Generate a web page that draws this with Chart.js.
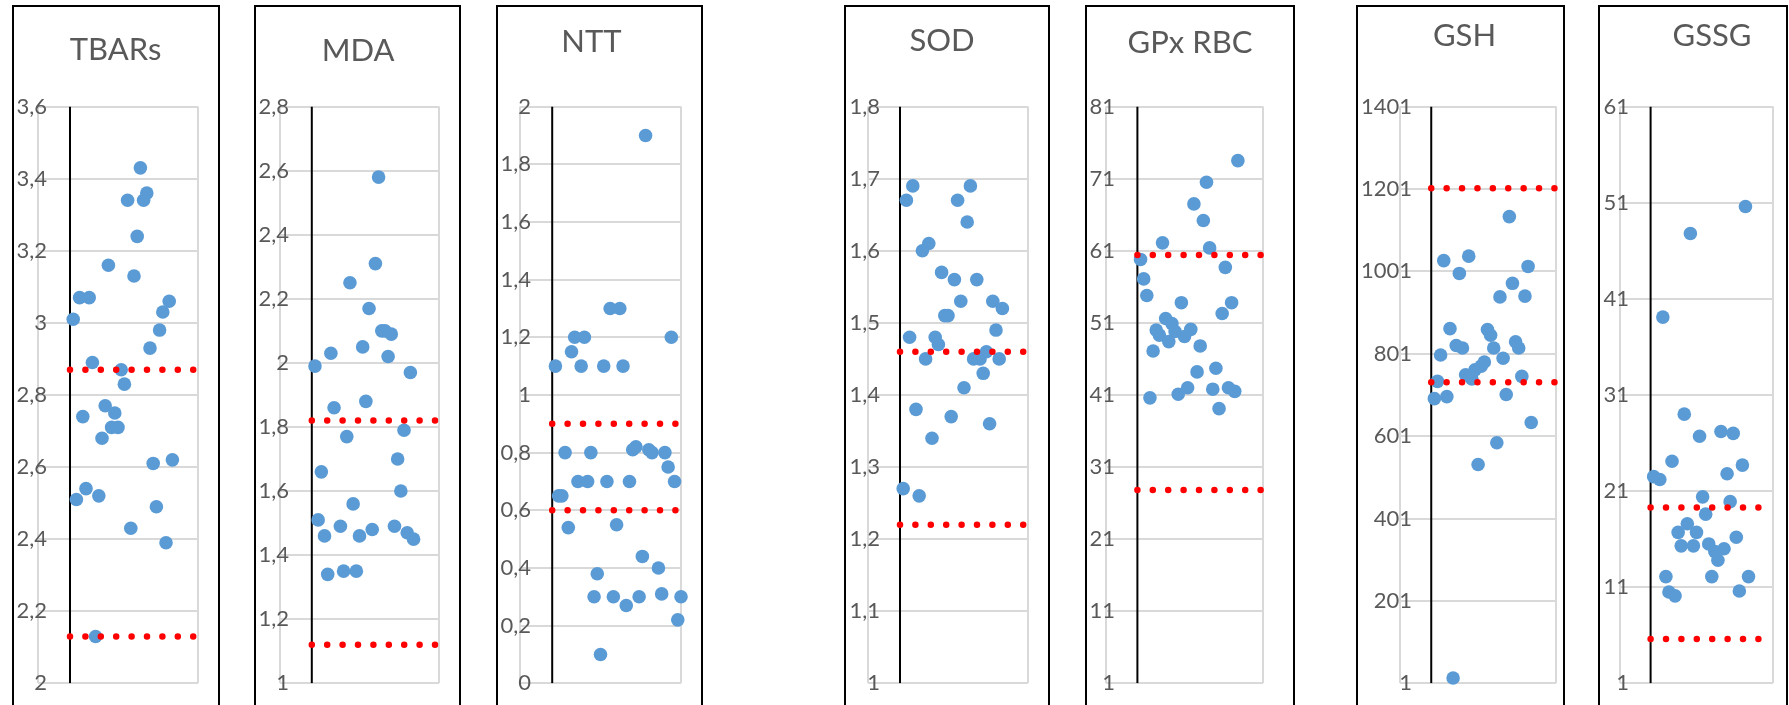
<!DOCTYPE html>
<html>
<head>
<meta charset="utf-8">
<script src="https://cdn.jsdelivr.net/npm/chart.js@4.4.0/dist/chart.umd.min.js"></script>
<style>
  html, body { margin: 0; padding: 0; background: #fff; width: 1789px; height: 705px; overflow: hidden; }
  .panel { position: absolute; top: 5px; height: 712px; border: 2px solid #000; box-sizing: border-box; background: #fff; }
  .panel canvas { position: absolute; left: 0; top: 0; }
</style>
</head>
<body>
<script>
// subject values, one entry per subject number (null = no measurement)
const tbarsY = [3.01, 2.51, 3.07, 2.74, 2.54, 3.07, 2.89, 2.13, 2.52, 2.68, 2.77, 3.16, 2.71, 2.75, 2.71, 2.87,
                2.83, 3.34, 2.43, 3.13, 3.24, 3.43, 3.34, 3.36, 2.93, 2.61, 2.49, 2.98, 3.03, 2.39, 3.06, 2.62];
const mdaY = [1.99, 1.51, 1.66, 1.46, 1.34, 2.03, 1.86, null, 1.49, 1.35, 1.77, 2.25, 1.56, 1.35, 1.46, 2.05,
              1.88, 2.17, 1.48, 2.31, 2.58, 2.10, 2.10, 2.02, 2.09, 1.49, 1.70, 1.60, 1.79, 1.47, 1.97, 1.45];
const nttY = [1.10, 0.65, 0.65, 0.80, 0.54, 1.15, 1.20, 0.70, 1.10, 1.20, 0.70, 0.80, 0.30, 0.38, 0.10, 1.10,
              0.70, 1.30, 0.30, 0.55, 1.30, 1.10, 0.27, 0.70, 0.81, 0.82, 0.30, 0.44, 1.90, 0.81, 0.80, null,
              0.40, 0.31, 0.80, 0.75, 1.20, 0.70, 0.22, 0.30];
const sodY = [1.27, 1.67, 1.48, 1.69, 1.38, 1.26, 1.60, 1.45, 1.61, 1.34, 1.48, 1.47, 1.57, 1.51, 1.51, 1.37,
              1.56, 1.67, 1.53, 1.41, 1.64, 1.69, 1.45, 1.56, 1.45, 1.43, 1.46, 1.36, 1.53, 1.49, 1.45, 1.52];
const gpxY = [59.8, 57.1, 54.8, 40.6, 47.1, 50.0, 49.3, 62.1, 51.6, 48.4, 50.9, 49.8, 41.1, 53.8, 49.1, 42.0,
              50.1, 67.5, 44.2, 47.8, 65.2, 70.5, 61.4, 41.8, 44.7, 39.1, 52.3, 58.7, 42.0, 53.8, 41.5, 73.5];
const gshY = [692, 734, 798, 1027, 697, 862, 14, 821, 996, 815, 750, 1038, 740, 762, 532, 771,
              781, 860, 846, 815, 585, 939, 790, 702, 1134, 972, 830, 815, 746, 941, 1013, 634];
const gssgY = [22.5, null, 22.2, 39.1, 12.1, 10.5, 24.1, 10.1, 16.7, 15.3, 29.0, 17.6, 47.8, 15.3, 16.7, 26.7,
               20.4, 18.6, 15.5, 12.1, 14.7, 13.8, 27.2, 15.0, 22.8, 19.9, 27.0, 16.2, 10.6, 23.7, 50.6, 12.1];

// reference range limits (lower, upper)
const tbarsRef = [2.13, 2.87];
const mdaRef = [1.12, 1.82];
const nttRef = [0.6, 0.9];
const sodRef = [1.22, 1.46];
const gpxRef = [27.8, 60.4];
const gshRef = [732, 1203];
const gssgRef = [5.6, 19.3];

// y tick labels
const tbarsTicks = [2, 2.2, 2.4, 2.6, 2.8, 3, 3.2, 3.4, 3.6];
const mdaTicks = [1, 1.2, 1.4, 1.6, 1.8, 2, 2.2, 2.4, 2.6, 2.8];
const nttTicks = [0, 0.2, 0.4, 0.6, 0.8, 1, 1.2, 1.4, 1.6, 1.8, 2];
const sodTicks = [1, 1.1, 1.2, 1.3, 1.4, 1.5, 1.6, 1.7, 1.8];
const gpxTicks = [1, 11, 21, 31, 41, 51, 61, 71, 81];
const gshTicks = [1, 201, 401, 601, 801, 1001, 1201, 1401];
const gssgTicks = [1, 11, 21, 31, 41, 51, 61];

const FONT = 'Lato, "Open Sans", sans-serif';
const TEXT = '#595959';
const GRID = '#d9d9d9';
const BLUE = '#5b9bd5';
const PANEL_TOP = 5;
const PLOT_TOP = 106.6, PLOT_BOTTOM = 683.3;
const X_MIN = -10, X_MAX = 40;

// page geometry of each framed chart
const panels = [
  { title: 'TBARs',   values: tbarsY, ref: tbarsRef, ticks: tbarsTicks, box: [12, 220],    grid: [38, 198],     labelEdge: 47,   titleAt: [115.5, 49.5] },
  { title: 'MDA',     values: mdaY,   ref: mdaRef,   ticks: mdaTicks,   box: [254, 461],   grid: [280, 439],    labelEdge: 289,  titleAt: [358, 51] },
  { title: 'NTT',     values: nttY,   ref: nttRef,   ticks: nttTicks,   box: [496, 703],   grid: [520, 681],    labelEdge: 531,  titleAt: [591.5, 42] },
  { title: 'SOD',     values: sodY,   ref: sodRef,   ticks: sodTicks,   box: [844, 1050],  grid: [868, 1028],   labelEdge: 880,  titleAt: [942, 41] },
  { title: 'GPx RBC', values: gpxY,   ref: gpxRef,   ticks: gpxTicks,   box: [1085, 1295], grid: [1106, 1263],  labelEdge: 1115, titleAt: [1190, 43] },
  { title: 'GSH',     values: gshY,   ref: gshRef,   ticks: gshTicks,   box: [1356, 1565], grid: [1400, 1560],  labelEdge: 1412, titleAt: [1464.5, 35.5] },
  { title: 'GSSG',    values: gssgY,  ref: gssgRef,  ticks: gssgTicks,  box: [1598, 1788], grid: [1620, 1773],  labelEdge: 1629, titleAt: [1712, 35.5] }
];

const fmt = v => String(Math.round(v * 100) / 100).replace('.', ',');

// panel heading, drawn at a fixed spot inside the frame
const headingPlugin = {
  id: 'heading',
  afterDraw(chart, args, opts) {
    const ctx = chart.ctx;
    ctx.save();
    ctx.fillStyle = TEXT;
    ctx.font = '31px ' + FONT;
    ctx.textAlign = 'center';
    ctx.textBaseline = 'middle';
    ctx.fillText(opts.text, opts.x, opts.y);
    ctx.restore();
  }
};

// y labels hang a little into the plot area, so they are drawn here
// (the scale would clip them to its own box)
const yLabelPlugin = {
  id: 'yLabels',
  afterDraw(chart, args, opts) {
    const s = chart.scales.y, ctx = chart.ctx;
    ctx.save();
    ctx.fillStyle = TEXT;
    ctx.font = '22px ' + FONT;
    ctx.textAlign = 'right';
    ctx.textBaseline = 'middle';
    s.ticks.forEach(t => ctx.fillText(fmt(t.value), opts.edge, s.getPixelForValue(t.value)));
    ctx.restore();
  }
};

panels.forEach(p => {
  const frame = document.createElement('div');
  frame.className = 'panel';
  frame.style.left = p.box[0] + 'px';
  frame.style.width = (p.box[1] - p.box[0]) + 'px';
  document.body.appendChild(frame);

  const ox = p.box[0] + 2, oy = PANEL_TOP + 2;
  const w = p.box[1] - p.box[0] - 4, h = 700;
  const cv = document.createElement('canvas');
  cv.width = w; cv.height = h;
  cv.style.width = w + 'px'; cv.style.height = h + 'px';
  frame.appendChild(cv);

  const yMin = p.ticks[0], yMax = p.ticks[p.ticks.length - 1];

  const refSets = p.ref.map(v => ({
    data: [{ x: 0, y: v }, { x: X_MAX, y: v }],
    showLine: true, borderColor: '#ff0000', borderWidth: 6.5,
    borderDash: [0, 15.4], borderCapStyle: 'round',
    pointRadius: 0, clip: false
  }));

  new Chart(cv, {
    type: 'scatter',
    data: {
      datasets: [
        ...refSets,
        {
          data: p.values.map((v, i) => ({ x: i + 1, y: v })),
          backgroundColor: BLUE, borderWidth: 0, pointRadius: 6.8, clip: false
        },
        {
          data: [{ x: 0, y: yMin }, { x: 0, y: yMax }],
          showLine: true, borderColor: '#000', borderWidth: 2, pointRadius: 0
        }
      ]
    },
    options: {
      responsive: false,
      animation: false,
      devicePixelRatio: 1,
      layout: {
        padding: { left: 0, top: PLOT_TOP - oy, right: ox + w - p.grid[1], bottom: oy + h - PLOT_BOTTOM }
      },
      plugins: {
        legend: { display: false },
        tooltip: { enabled: false },
        title: { display: false },
        heading: { text: p.title, x: p.titleAt[0] - ox, y: p.titleAt[1] - oy },
        yLabels: { edge: p.labelEdge - ox }
      },
      scales: {
        x: {
          type: 'linear', min: X_MIN, max: X_MAX,
          afterBuildTicks: s => { s.ticks = [{ value: X_MIN }, { value: X_MAX }]; },
          afterFit: s => { s.height = 0; },
          ticks: { display: false },
          grid: { color: GRID, lineWidth: 2, drawTicks: false },
          border: { display: false }
        },
        y: {
          type: 'linear', min: yMin, max: yMax,
          afterBuildTicks: s => { s.ticks = p.ticks.map(v => ({ value: v })); },
          afterFit: s => { s.width = p.grid[0] - ox; },
          ticks: { display: false },
          grid: { color: GRID, lineWidth: 2, drawTicks: false },
          border: { display: false }
        }
      }
    },
    plugins: [headingPlugin, yLabelPlugin]
  });
});
</script>
</body>
</html>
